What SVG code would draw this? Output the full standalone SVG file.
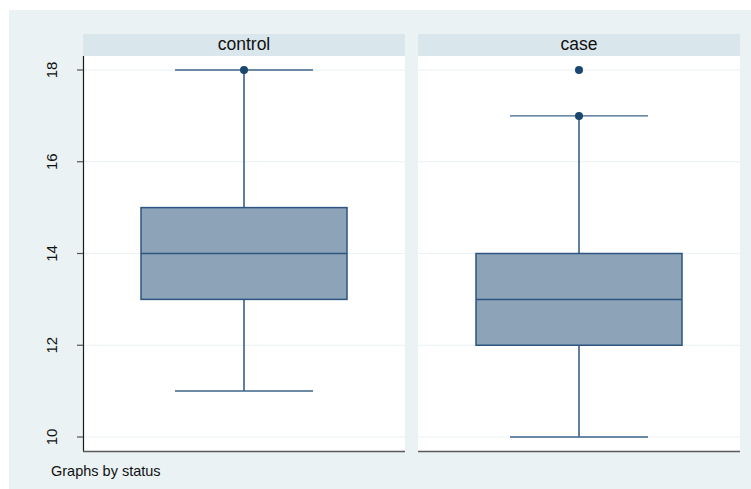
<svg xmlns="http://www.w3.org/2000/svg" width="751" height="489" viewBox="0 0 751 489">
  <style>
    .bg { fill: #eaf2f3; }
    .strip { fill: #d9e6eb; }
    .plot { fill: #ffffff; }
    .grid { stroke: #eaf2f3; stroke-width: 1.2; }
    .axis { stroke: #1a1a1a; stroke-width: 1.2; }
    .xaxis { stroke: #5a5a5a; stroke-width: 1.6; }
    .tick { stroke: #555555; stroke-width: 1.2; }
    .box { fill: #8da3b8; stroke: #2c5580; stroke-width: 1.5; }
    .med { stroke: #2c5580; stroke-width: 1.5; }
    .whisk { stroke: #2c5580; stroke-width: 1.5; }
    .cap { stroke: #3e6489; stroke-width: 1.4; }
    .dot { fill: #1a476f; }
    .lbl { font-family: "Liberation Sans", Arial, sans-serif; fill: #111111; }
    .strip-t { font-size: 17.5px; text-anchor: middle; }
    .tick-t { font-size: 15px; text-anchor: middle; }
    .note { font-size: 14.5px; }
  </style>

  <!-- graph region background -->
  <rect class="bg" x="9" y="10" width="742" height="479"/>

  <!-- panel: control -->
  <g id="panel-control">
    <rect class="strip" x="83" y="34" width="322" height="22"/>
    <text class="lbl strip-t" x="244" y="50">control</text>
    <rect class="plot" x="83" y="56" width="322" height="395"/>
    <g>
      <line class="grid" x1="84" y1="437" x2="405" y2="437"/>
      <line class="grid" x1="84" y1="345.25" x2="405" y2="345.25"/>
      <line class="grid" x1="84" y1="253.5" x2="405" y2="253.5"/>
      <line class="grid" x1="84" y1="161.75" x2="405" y2="161.75"/>
      <line class="grid" x1="84" y1="70" x2="405" y2="70"/>
    </g>
  </g>

  <!-- panel: case -->
  <g id="panel-case">
    <rect class="strip" x="418" y="34" width="322" height="22"/>
    <text class="lbl strip-t" x="579" y="50">case</text>
    <rect class="plot" x="418" y="56" width="322" height="395"/>
    <g>
      <line class="grid" x1="418" y1="437" x2="740" y2="437"/>
      <line class="grid" x1="418" y1="345.25" x2="740" y2="345.25"/>
      <line class="grid" x1="418" y1="253.5" x2="740" y2="253.5"/>
      <line class="grid" x1="418" y1="161.75" x2="740" y2="161.75"/>
      <line class="grid" x1="418" y1="70" x2="740" y2="70"/>
    </g>
  </g>

  <!-- y axis -->
  <g id="y-axis">
    <line class="axis" x1="83.5" y1="56" x2="83.5" y2="451.5"/>
    <line class="tick" x1="77" y1="437" x2="83" y2="437"/>
    <line class="tick" x1="77" y1="345.25" x2="83" y2="345.25"/>
    <line class="tick" x1="77" y1="253.5" x2="83" y2="253.5"/>
    <line class="tick" x1="77" y1="161.75" x2="83" y2="161.75"/>
    <line class="tick" x1="77" y1="70" x2="83" y2="70"/>
    <text class="lbl tick-t" transform="translate(57,437) rotate(-90)">10</text>
    <text class="lbl tick-t" transform="translate(57,345.25) rotate(-90)">12</text>
    <text class="lbl tick-t" transform="translate(57,253.5) rotate(-90)">14</text>
    <text class="lbl tick-t" transform="translate(57,161.75) rotate(-90)">16</text>
    <text class="lbl tick-t" transform="translate(57,70) rotate(-90)">18</text>
  </g>

  <!-- x axis baselines -->
  <g id="x-axis">
    <line class="xaxis" x1="83" y1="451.5" x2="405" y2="451.5"/>
    <line class="xaxis" x1="418" y1="451.5" x2="740" y2="451.5"/>
  </g>

  <!-- box: control (q1 13, median 14, q3 15, whiskers 11..18) -->
  <g id="box-control">
    <line class="whisk" x1="244" y1="70" x2="244" y2="207.6"/>
    <line class="whisk" x1="244" y1="299.4" x2="244" y2="391"/>
    <line class="cap" x1="175" y1="70" x2="313" y2="70"/>
    <line class="cap" x1="175" y1="391" x2="313" y2="391"/>
    <rect class="box" x="141" y="207.6" width="206" height="91.8"/>
    <line class="med" x1="141" y1="253.5" x2="347" y2="253.5"/>
    <circle class="dot" cx="244" cy="70" r="4"/>
  </g>

  <!-- box: case (q1 12, median 13, q3 14, whiskers 10..17, outliers 17, 18) -->
  <g id="box-case">
    <line class="whisk" x1="579" y1="115.9" x2="579" y2="253.5"/>
    <line class="whisk" x1="579" y1="345.25" x2="579" y2="437"/>
    <line class="cap" x1="510" y1="115.9" x2="648" y2="115.9"/>
    <line class="cap" x1="510" y1="437" x2="648" y2="437"/>
    <rect class="box" x="476" y="253.5" width="206" height="91.75"/>
    <line class="med" x1="476" y1="299.4" x2="682" y2="299.4"/>
    <circle class="dot" cx="579" cy="115.9" r="4"/>
    <circle class="dot" cx="579" cy="70" r="4"/>
  </g>

  <text class="lbl note" x="51" y="476">Graphs by status</text>
</svg>
